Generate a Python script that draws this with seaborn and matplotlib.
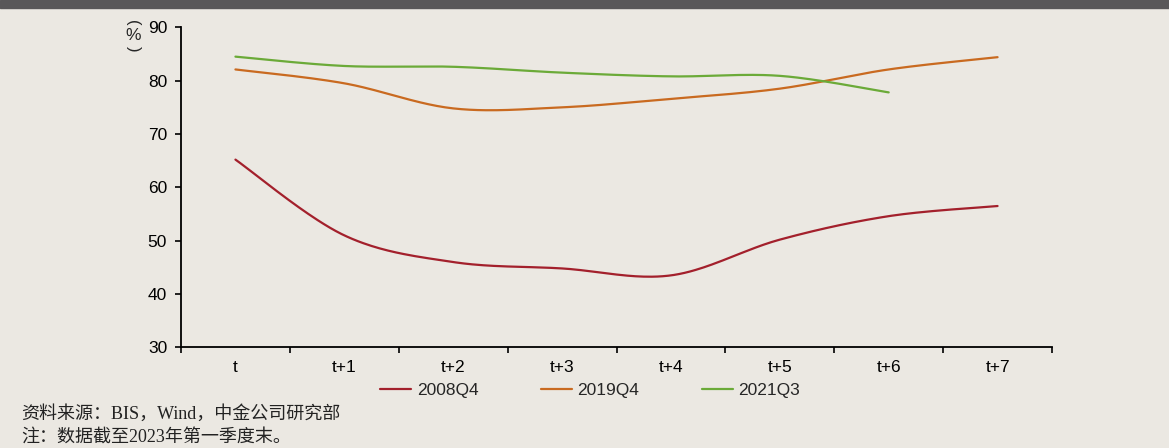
import numpy as np
import pandas as pd
import matplotlib
matplotlib.use("Agg")
import matplotlib.pyplot as plt
import seaborn as sns

categories = ["t", "t+1", "t+2", "t+3", "t+4", "t+5", "t+6", "t+7"]
s2008q4 = [65.2, 51.0, 46.0, 44.8, 43.5, 50.2, 54.6, 56.5]
s2019q4 = [82.1, 79.5, 74.8, 75.0, 76.6, 78.5, 82.1, 84.4]
s2021q3 = [84.5, 82.75, 82.6, 81.5, 80.8, 80.9, 77.8, None]
series_names = ["2008Q4", "2019Q4", "2021Q3"]
series_values = [s2008q4, s2019q4, s2021q3]
colors = ["#A3202C", "#C96A20", "#6BAA38"]
yticks = [30, 40, 50, 60, 70, 80, 90]
source_text = "资料来源：BIS，Wind，中金公司研究部"
note_text = "注：数据截至2023年第一季度末。"

BG = "#EBE8E2"


def catmull_rom(xs, ys, n=40):
    xs = np.asarray(xs, float)
    ys = np.asarray(ys, float)
    px = np.concatenate([[xs[0]], xs, [xs[-1]]])
    py = np.concatenate([[ys[0]], ys, [ys[-1]]])
    outx, outy = [], []
    for i in range(1, len(px) - 2):
        p0, p1, p2, p3 = (np.array([px[j], py[j]]) for j in (i - 1, i, i + 1, i + 2))
        c1 = p1 + (p2 - p0) / 6.0
        c2 = p2 - (p3 - p1) / 6.0
        t = np.linspace(0, 1, n, endpoint=(i == len(px) - 3))
        b = ((1 - t) ** 3)[:, None] * p1 + (3 * (1 - t) ** 2 * t)[:, None] * c1 \
            + (3 * (1 - t) * t ** 2)[:, None] * c2 + (t ** 3)[:, None] * p2
        outx.append(b[:, 0])
        outy.append(b[:, 1])
    return np.concatenate(outx), np.concatenate(outy)


frames = []
for name, vals in zip(series_names, series_values):
    idx = [i for i, v in enumerate(vals) if v is not None]
    xs, ys = catmull_rom(idx, [vals[i] for i in idx])
    frames.append(pd.DataFrame({"x": xs, "y": ys, "series": name}))
df = pd.concat(frames, ignore_index=True)

sns.set_theme(style="white")
plt.rcParams["font.family"] = ["Liberation Sans", "Noto Sans CJK SC", "DejaVu Sans"]

fig = plt.figure(figsize=(11.69, 4.48), dpi=100, facecolor=BG)
W, H = 1169, 448
x0, x1, ytop, ybot = 181, 1052, 27.3, 347.4
ax = fig.add_axes([x0 / W, 1 - ybot / H, (x1 - x0) / W, (ybot - ytop) / H])
ax.set_facecolor(BG)

sns.lineplot(data=df, x="x", y="y", hue="series", hue_order=series_names,
             palette=colors, linewidth=1.6, sort=False, estimator=None,
             ax=ax, legend=True)

ax.set_xlim(-0.5, 7.5)
ax.set_ylim(30, 90)
ax.set_yticks(yticks)
ax.set_xticks(range(len(categories)))
ax.set_xticklabels(categories)
ax.set_xticks(np.arange(-0.5, 7.6, 1.0), minor=True)
ax.tick_params(axis="x", which="major", length=0, pad=9, labelsize=12.5, colors="black")
ax.tick_params(axis="x", which="minor", length=4, width=1.2, direction="out", color="black",
               bottom=True)
ax.tick_params(axis="y", which="major", length=4, width=1.2, direction="out", pad=6,
               labelsize=12.5, colors="black", left=True)
ax.set_xlabel("")
ax.set_ylabel("")
for s in ["top", "right"]:
    ax.spines[s].set_visible(False)
for s in ["left", "bottom"]:
    ax.spines[s].set_color("black")
    ax.spines[s].set_linewidth(1.3)
ax.grid(False)

handles, labels = ax.get_legend_handles_labels()
ax.legend_.remove()
fig.legend(handles, labels, loc="center", bbox_to_anchor=(590 / W, 1 - 390 / H),
           ncol=3, frameon=False, fontsize=12.5, handlelength=1.8,
           handletextpad=0.3, columnspacing=3.6)

# y-axis unit label (vertical parentheses)
fig.text(133 / W, 1 - 23 / H, "(", rotation=-90, rotation_mode="anchor",
         ha="center", va="center", fontsize=12)
fig.text(133 / W, 1 - 36 / H, "%", ha="center", va="center", fontsize=12.5)
fig.text(133 / W, 1 - 49 / H, ")", rotation=-90, rotation_mode="anchor",
         ha="center", va="center", fontsize=12)

# top dark band
fig.patches.append(plt.Rectangle((0, 1 - 8 / H), 1, 8 / H, transform=fig.transFigure,
                                 color="#595759", zorder=0))

foot = ["Liberation Serif", "Noto Sans CJK SC", "DejaVu Sans"]
fig.text(21 / W, 1 - 414 / H, source_text, ha="left", va="center", fontsize=13,
         family=foot, color="#222222")
fig.text(21 / W, 1 - 438 / H, note_text, ha="left", va="center", fontsize=13,
         family=foot, color="#222222")

fig.savefig("out.png", dpi=100, facecolor=BG)
